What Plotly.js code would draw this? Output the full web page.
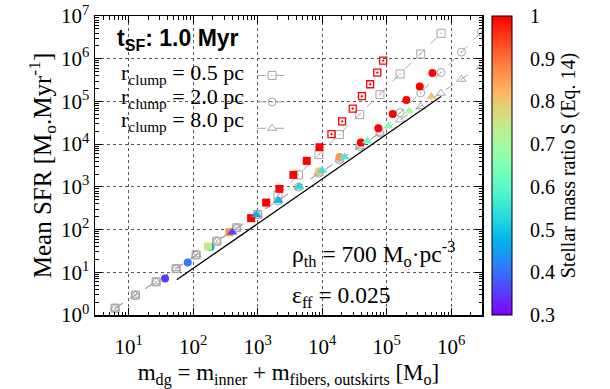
<!DOCTYPE html>
<html><head><meta charset="utf-8">
<script src="https://cdn.plot.ly/plotly-3.0.1.min.js"></script>
<style>html,body{margin:0;padding:0;background:#fff;}#chart{width:610px;height:389px;}</style>
</head><body><div id="chart"></div>
<script>
// ---- model curves (grey) ----
const sqMass = [6.15,12.7,26.6,54.3,111,231,472,1000,2056,4276,8892,18490,38110,78520,161400,336500,696600];
const sqSFR  = [1.45,2.92,5.98,12.2,25.6,53.6,110,227,639,1906,5690,16720,49110,144300,439900,1292000,3940000];
const ciMass = [6.15,12.7,26.6,54.3,111,231,472,1000,2056,4276,8892,18490,38110,78520,161400,336500,696600,1440000,2940000];
const ciSFR  = [1.45,2.92,5.98,12.2,25.6,53.6,110,227,470,984,2089,4277,8753,18330,54700,158100,477300,1425000,4190000];
const trMass = [6.15,12.7,26.6,54.3,111,231,472,1000,2056,4276,8892,18490,38110,78520,161400,336500,696600,1440000,2940000];
const trSFR  = [1.45,2.92,5.98,12.2,25.6,53.6,110,227,470,984,2089,4277,8753,18030,36900,75530,155600,330500,677500];

// ---- simulated points (coloured by S) ----
const simSqMass = [169,364,790,1349,2168,3573,5754,9057];
const simSqSFR  = [40.1,87.0,185,429,897,1906,4055,8477];
const simSqS    = [0.75,0.87,1,1,1,1,1,1];
const openSqMass = [13900,20370,29720,41300,55340,71290,87900];
const openSqSFR  = [17180,34050,67880,132400,252600,472100,901000];
const openSqS    = [1,1,1,1,1,1,1];
const simCiMass = [36.6,82.2,185,8892,18490,39810,74300,123900,201800,325100,511700];
const simCiSFR  = [7.14,16.9,38.8,2328,5029,10990,23600,51030,108400,224400,464500];
const simCiS    = [0.35,0.41,0.48,0.8,0.86,1,1,1,1,1,1];
const simTrMass = [401,955,2094,4436,9954,22080,49650,106200,224900,493200];
const simTrSFR  = [87,221,477,1015,2404,5029,11910,26710,59970,130900];
const simTrS    = [0.36,0.47,0.48,0.53,0.55,0.57,0.62,0.66,0.70,0.80];

// ---- reference line ----
const refMass = [55.5,696600];
const refSFR  = [6.66,131000];

// ---- ticks ----
const xTickVals = [10,100,1000,10000,100000,1000000];
const xTickText = ['10<sup>1</sup>','10<sup>2</sup>','10<sup>3</sup>','10<sup>4</sup>','10<sup>5</sup>','10<sup>6</sup>'];
const yTickVals = [1,10,100,1000,10000,100000,1000000,10000000];
const yTickText = ['10<sup>0</sup>','10<sup>1</sup>','10<sup>2</sup>','10<sup>3</sup>','10<sup>4</sup>','10<sup>5</sup>','10<sup>6</sup>','10<sup>7</sup>'];
const cbTickVals = [0.3,0.4,0.5,0.6,0.7,0.8,0.9,1];
const cbTickText = ['0.3','0.4','0.5','0.6','0.7','0.8','0.9','1'];
const legendLabels = ['r<sub>clump</sub> = 0.5 pc','r<sub>clump</sub> = 2.0 pc','r<sub>clump</sub> = 8.0 pc'];

// gnuplot-like rainbow palette
function pal(t){
  const r = Math.min(1, Math.abs(2*t-0.5));
  const g = Math.max(0, Math.sin(Math.PI*t));
  const b = Math.max(0, Math.cos(Math.PI/2*t));
  return 'rgb('+Math.round(r*255)+','+Math.round(g*255)+','+Math.round(b*255)+')';
}
const cscale = [];
for (let i=0;i<=20;i++){ const t=i/20; cscale.push([t, pal(t)]); }

function minorVals(lo, hi){
  const v=[]; for(let d=lo; d<=hi; d++){ for(let k=2;k<=9;k++){ v.push(k*Math.pow(10,d)); } } return v;
}

const SERIF = 'Liberation Serif, Times New Roman, serif';
const GREY = '#a6a6a6';

function greyTrace(x,y,sym){
  return {x:x, y:y, type:'scatter', mode:'lines+markers', name:'', showlegend:true,
    line:{color:GREY, width:1, dash:'dash'},
    marker:{symbol:sym, size:8, color:GREY, line:{color:GREY, width:1}}, hoverinfo:'skip'};
}
function simTrace(x,y,s,sym,size,showscale){
  const m = {symbol:sym, size:size, color:s, colorscale:cscale, cmin:0.3, cmax:1, line:{width:0}};
  if (sym.indexOf('open')>=0) m.line = {width:1.3};
  if (showscale){
    m.showscale = true;
    m.colorbar = {x:1.026, xanchor:'left', xref:'paper', y:0.5, yanchor:'middle', len:1, lenmode:'fraction',
      thickness:20, xpad:0, ypad:0, outlinewidth:1, outlinecolor:'#000',
      tickmode:'array', tickvals:cbTickVals, ticktext:cbTickText,
      ticks:'outside', ticklen:14, tickcolor:'rgba(0,0,0,0)',
      tickfont:{family:SERIF, size:20, color:'#000'},
      title:{text:'Stellar mass ratio S (Eq. 14)', side:'right', font:{family:SERIF, size:20, color:'#000'}}};
  }
  return {x:x, y:y, type:'scatter', mode:'markers', showlegend:false, marker:m, hoverinfo:'skip'};
}

const data = [
  greyTrace(sqMass, sqSFR, 'square-open-dot'),
  greyTrace(ciMass, ciSFR, 'circle-open-dot'),
  greyTrace(trMass, trSFR, 'triangle-up-open'),
  {x:refMass, y:refSFR, type:'scatter', mode:'lines', showlegend:false, line:{color:'#000', width:1.3}, hoverinfo:'skip'},
  simTrace(simCiMass, simCiSFR, simCiS, 'circle', 8, true),
  simTrace(simSqMass, simSqSFR, simSqS, 'square', 8, false),
  simTrace(openSqMass, openSqSFR, openSqS, 'square-open-dot', 7, false),
  simTrace(simTrMass, simTrSFR, simTrS, 'triangle-up', 9, false)
];

const axBase = {type:'log', showline:true, linecolor:'#000', linewidth:1.5, mirror:'allticks',
  ticks:'inside', ticklen:7, tickcolor:'#000', tickwidth:1,
  showgrid:true, gridcolor:'#555', griddash:'dot', gridwidth:1, zeroline:false,
  tickfont:{family:SERIF, size:21, color:'#000'}, tickmode:'array'};

const layout = {
  width:610, height:389, margin:{l:95, r:128, t:16, b:74},
  paper_bgcolor:'#fff', plot_bgcolor:'#fff',
  font:{family:SERIF, color:'#000'},
  xaxis: Object.assign({}, axBase, {range:[Math.log10(3), Math.log10(3e6)], tickvals:xTickVals, ticktext:xTickText,
    ticklabelstandoff:12,
    minor:{tickmode:'array', tickvals:minorVals(0,6), ticks:'inside', ticklen:3.5, tickcolor:'#000', showgrid:false},
    title:{text:'m<sub>dg</sub> = m<sub>inner</sub> + m<sub>fibers, outskirts</sub> [M<sub>o</sub>]', font:{family:SERIF, size:23, color:'#000'}, standoff:6}}),
  yaxis: Object.assign({}, axBase, {range:[0,7], tickvals:yTickVals, ticktext:yTickText,
    minor:{tickmode:'array', tickvals:minorVals(0,6), ticks:'inside', ticklen:3.5, tickcolor:'#000', showgrid:false},
    title:{text:'Mean SFR [M<sub>o</sub>.Myr<sup>-1</sup>]', font:{family:SERIF, size:25, color:'#000'}, standoff:2}}),
  showlegend:true,
  legend:{x:0.406, xanchor:'left', y:0.862, yanchor:'top', bgcolor:'rgba(0,0,0,0)', borderwidth:0,
    font:{family:SERIF, size:18}, itemwidth:30, tracegroupgap:0},
  shapes:[{type:'rect', xref:'paper', yref:'paper', x0:0, x1:0.537, y0:0.619, y1:0.846, fillcolor:'#fff', line:{width:0}, layer:'between'}],
  annotations:[
    {xref:'paper', yref:'paper', x:0.2145, y:0.92, xanchor:'center', yanchor:'middle', showarrow:false,
     text:'<b>t<sub>SF</sub>: 1.0 Myr</b>', font:{family:'Liberation Sans, Arial, sans-serif', size:23, color:'#000'}},
    {xref:'paper', yref:'paper', x:0.39, y:(315-74)/299, xanchor:'right', yanchor:'middle', showarrow:false,
     text:legendLabels[0], font:{family:SERIF, size:22, color:'#000'}},
    {xref:'paper', yref:'paper', x:0.39, y:(315-97.5)/299, xanchor:'right', yanchor:'middle', showarrow:false,
     text:legendLabels[1], font:{family:SERIF, size:22, color:'#000'}},
    {xref:'paper', yref:'paper', x:0.39, y:(315-121)/299, xanchor:'right', yanchor:'middle', showarrow:false,
     text:legendLabels[2], font:{family:SERIF, size:22, color:'#000'}},
    {xref:'paper', yref:'paper', x:(290-95)/387, y:(315-254)/299, xanchor:'left', yanchor:'middle', showarrow:false,
     text:'ρ<sub>th</sub> = 700 M<sub>o</sub>·pc<sup>-3</sup>', font:{family:SERIF, size:23.5, color:'#000'}},
    {xref:'paper', yref:'paper', x:(290-95)/387, y:(315-297)/299, xanchor:'left', yanchor:'middle', showarrow:false,
     text:'ε<sub>ff</sub> = 0.025', font:{family:SERIF, size:23.5, color:'#000'}}
  ]
};

Plotly.newPlot('chart', data, layout, {displayModeBar:false, staticPlot:true});
</script></body></html>
